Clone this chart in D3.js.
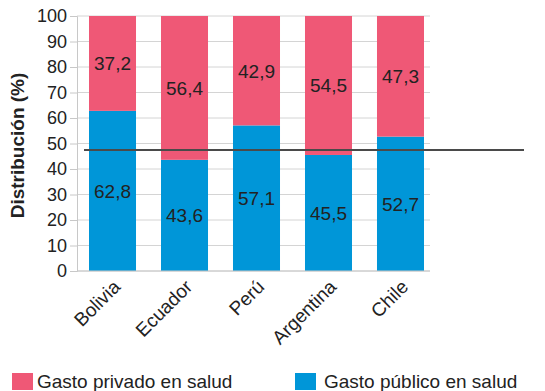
<!DOCTYPE html>
<html>
<head>
<meta charset="utf-8">
<script src="https://cdn.jsdelivr.net/npm/d3@7"></script>
<style>
  html, body { margin: 0; padding: 0; background: #fff; }
  svg { display: block; font-family: "Liberation Sans", Arial, sans-serif; }
</style>
</head>
<body>
<svg id="chart" width="545" height="391"></svg>
<script>
// Health spending split, public vs private, per country
const countries = ["Bolivia", "Ecuador", "Perú", "Argentina", "Chile"];
const publico = [62.8, 43.6, 57.1, 45.5, 52.7];
const privado = [37.2, 56.4, 42.9, 54.5, 47.3];
const seriesNames = ["Gasto privado en salud", "Gasto público en salud"];
const yTicks = [0, 10, 20, 30, 40, 50, 60, 70, 80, 90, 100];
const referenceLine = 47.5;

const colors = { privado: "#EF5876", publico: "#0096D8" };

const svg = d3.select("#chart");
const plot = { left: 77, right: 430, top: 16, bottom: 271 };

const x = d3.scaleBand().domain(countries).range([80, 433]).paddingInner(0.347).paddingOuter(0.125);
const y = d3.scaleLinear().domain([0, 100]).range([plot.bottom, plot.top]);

// gridlines
svg.append("g").selectAll("line").data(yTicks).join("line")
  .attr("x1", plot.left).attr("x2", plot.right)
  .attr("y1", d => y(d)).attr("y2", d => y(d))
  .attr("stroke", "#d4d4d4").attr("stroke-width", 1);

// y axis
const yAxis = svg.append("g").attr("transform", `translate(${plot.left},0)`)
  .call(d3.axisLeft(y).tickValues(yTicks).tickSize(7).tickPadding(3));
yAxis.select(".domain").attr("stroke", "#c8c8c8");
yAxis.selectAll(".tick line").attr("stroke", "#c8c8c8");
yAxis.selectAll(".tick text").attr("font-size", 18).attr("fill", "#222").attr("font-family", "Liberation Sans, Arial, sans-serif");

// stacked bars
const rows = countries.map((c, i) => ({ c, pub: publico[i], priv: privado[i] }));
const g = svg.append("g");
g.selectAll("rect.pub").data(rows).join("rect").attr("class", "pub")
  .attr("x", d => x(d.c)).attr("width", x.bandwidth())
  .attr("y", d => y(d.pub)).attr("height", d => y(0) - y(d.pub))
  .attr("fill", colors.publico);
g.selectAll("rect.priv").data(rows).join("rect").attr("class", "priv")
  .attr("x", d => x(d.c)).attr("width", x.bandwidth())
  .attr("y", d => y(d.pub + d.priv)).attr("height", d => y(d.pub) - y(d.pub + d.priv))
  .attr("fill", colors.privado);

// value labels
const fmt = v => v.toFixed(1).replace(".", ",");
g.selectAll("text.vpub").data(rows).join("text").attr("class", "vpub")
  .attr("x", d => x(d.c) + x.bandwidth() / 2)
  .attr("y", d => y(d.pub / 2) + 7)
  .attr("text-anchor", "middle").attr("font-size", 19).attr("fill", "#222")
  .text(d => fmt(d.pub));
g.selectAll("text.vpriv").data(rows).join("text").attr("class", "vpriv")
  .attr("x", d => x(d.c) + x.bandwidth() / 2)
  .attr("y", d => y(d.pub + d.priv / 2) + 7)
  .attr("text-anchor", "middle").attr("font-size", 19).attr("fill", "#222")
  .text(d => fmt(d.priv));

// x axis baseline and category labels
svg.append("line").attr("x1", plot.left).attr("x2", plot.right)
  .attr("y1", y(0)).attr("y2", y(0)).attr("stroke", "#c8c8c8");
svg.append("g").selectAll("text").data(countries).join("text")
  .attr("transform", d => `translate(${x(d) + x.bandwidth() / 2 + 9},${y(0) + 17}) rotate(-45)`)
  .attr("text-anchor", "end").attr("font-size", 19).attr("fill", "#222")
  .text(d => d);

// reference line
svg.append("line").attr("x1", 84).attr("x2", 524)
  .attr("y1", y(referenceLine)).attr("y2", y(referenceLine))
  .attr("stroke", "#4a4a4a").attr("stroke-width", 2);

// y axis title
svg.append("text")
  .attr("transform", `translate(24,${(plot.top + plot.bottom) / 2 + 2}) rotate(-90)`)
  .attr("text-anchor", "middle").attr("font-size", 19).attr("font-weight", "bold").attr("fill", "#222")
  .text("Distribución (%)");

// legend
const legend = svg.append("g");
const legendItems = [
  { name: seriesNames[0], color: colors.privado, x: 12, tx: 37 },
  { name: seriesNames[1], color: colors.publico, x: 295, tx: 324 }
];
legend.selectAll("rect").data(legendItems).join("rect")
  .attr("x", d => d.x).attr("y", 373).attr("width", 21).attr("height", 17)
  .attr("fill", d => d.color);
legend.selectAll("text").data(legendItems).join("text")
  .attr("x", d => d.tx).attr("y", 388).attr("font-size", 19).attr("fill", "#222")
  .text(d => d.name);
</script>
</body>
</html>
